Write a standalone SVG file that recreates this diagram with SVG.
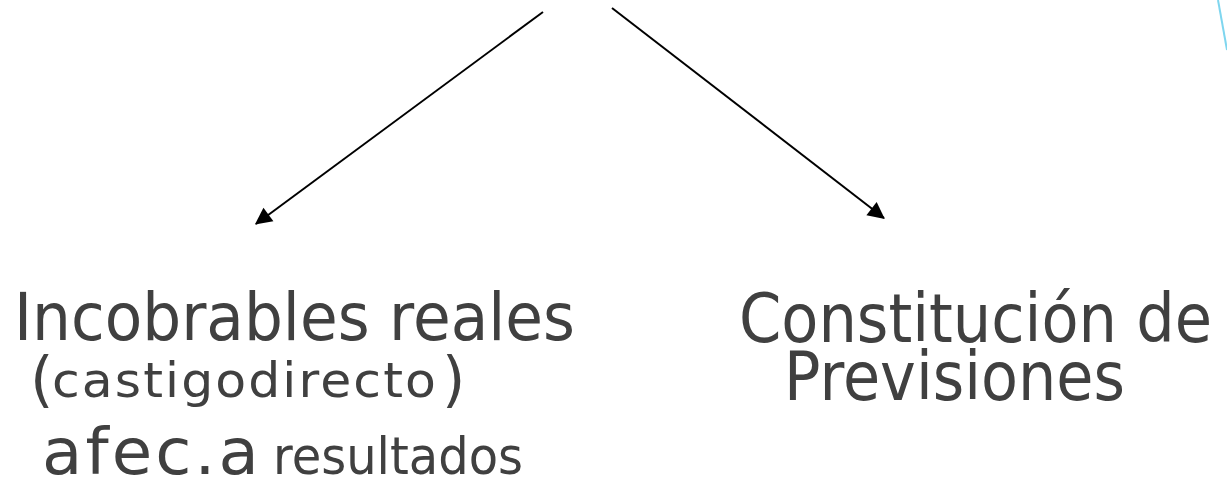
<svg xmlns="http://www.w3.org/2000/svg" width="1227" height="488" viewBox="0 0 1227 488">
<style>
.t{font-family:"DejaVu Sans","Open Sans",sans-serif;fill:#404040}
.c{stroke:#000;stroke-width:2;fill:none}
</style>
<defs>
<marker id="ah" viewBox="0 0 10 10" refX="9" refY="5" markerWidth="8" markerHeight="8" markerUnits="userSpaceOnUse" orient="auto" style="overflow:visible">
<path d="M0,0 L10,5 L0,10 z" fill="#000" transform="scale(2.1) translate(-5,-2.5)"/>
</marker>
</defs>
<rect width="1227" height="488" fill="#fff"/>
<line x1="1218" y1="0" x2="1227" y2="50" stroke="#7fd6ef" stroke-width="2"/>
<g id="connectors">
<line class="c" x1="543" y1="12" x2="256" y2="224" marker-end="url(#ah)"/>
<line class="c" x1="612" y1="8" x2="884" y2="218" marker-end="url(#ah)"/>
</g>
<g id="node-incobrables">
<text class="t" x="14" y="340" font-size="65" textLength="561" lengthAdjust="spacingAndGlyphs">Incobrables reales</text>
<text class="t" x="30" y="400" font-size="60">(</text>
<text class="t" x="52" y="397" font-size="48" letter-spacing="2" textLength="386" lengthAdjust="spacingAndGlyphs">castigodirecto</text>
<text class="t" x="442" y="400" font-size="60">)</text>
<text class="t" x="42" y="474" font-size="64" letter-spacing="3" textLength="220" lengthAdjust="spacingAndGlyphs">afec.a</text>
<text class="t" x="273" y="474" font-size="51" textLength="250" lengthAdjust="spacingAndGlyphs">resultados</text>
</g>
<g id="node-constitucion">
<text class="t" x="739" y="342" font-size="67" textLength="473" lengthAdjust="spacingAndGlyphs">Constitución de</text>
<text class="t" x="784" y="400" font-size="67" textLength="341" lengthAdjust="spacingAndGlyphs">Previsiones</text>
</g>
</svg>
